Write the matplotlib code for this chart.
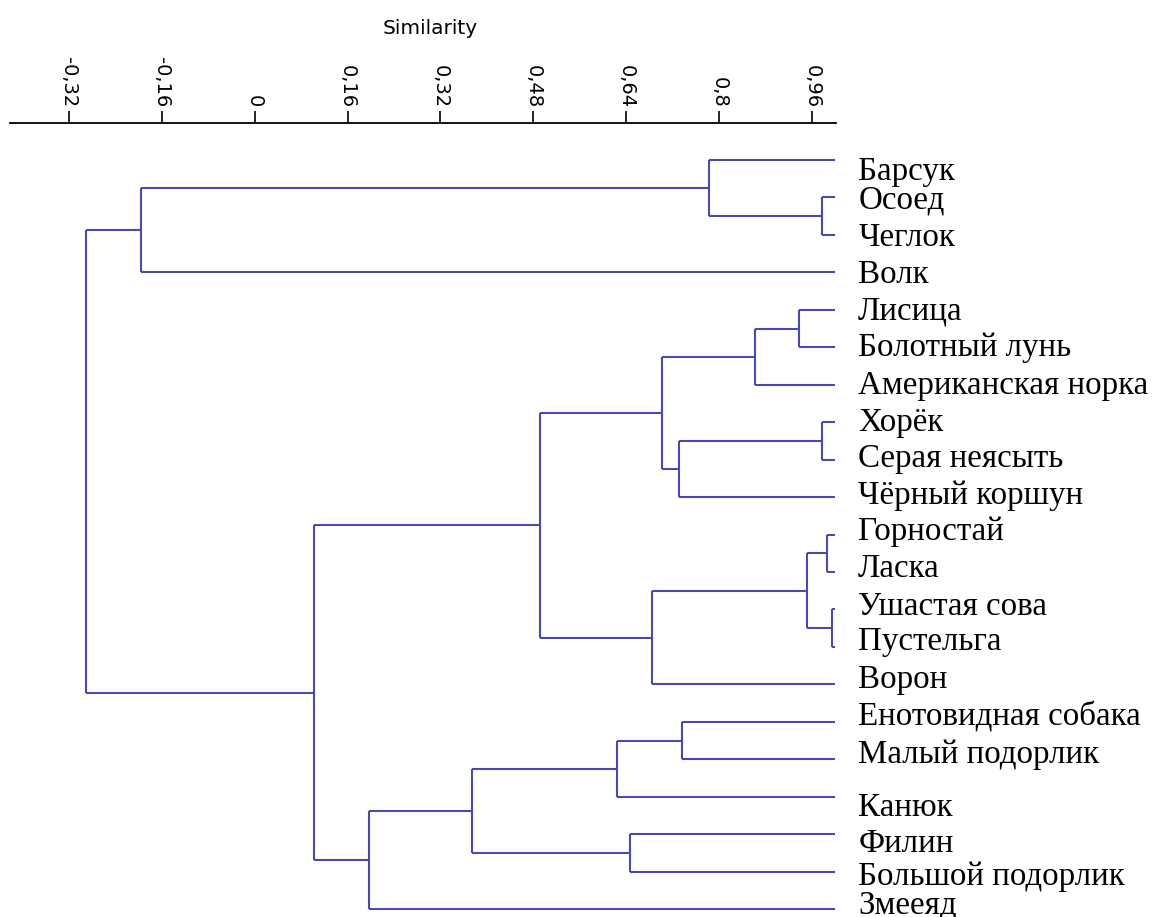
import matplotlib
matplotlib.use('Agg')
import matplotlib.pyplot as plt

# leaves, top to bottom
leaves = ['Барсук', 'Осоед', 'Чеглок', 'Волк', 'Лисица', 'Болотный лунь',
          'Американская норка', 'Хорёк', 'Серая неясыть', 'Чёрный коршун',
          'Горностай', 'Ласка', 'Ушастая сова', 'Пустельга', 'Ворон',
          'Енотовидная собака', 'Малый подорлик', 'Канюк', 'Филин',
          'Большой подорлик', 'Змееяд']

# merges like a linkage table: new cluster ids start at len(leaves)
merge_left = [12, 10, 1, 7, 22, 4, 26, 0, 15, 24, 27, 25, 18, 29, 31, 34, 36, 35, 28, 39]
merge_right = [13, 11, 2, 8, 21, 5, 6, 23, 16, 9, 30, 14, 19, 17, 32, 33, 20, 37, 3, 38]
merge_sim = [0.995, 0.986, 0.978, 0.978, 0.951, 0.937, 0.862, 0.783, 0.736, 0.731,
             0.701, 0.684, 0.647, 0.624, 0.491, 0.374, 0.197, 0.103, -0.195, -0.291]

tick_values = [-0.32, -0.16, 0, 0.16, 0.32, 0.48, 0.64, 0.8, 0.96]
tick_labels = ['-0,32', '-0,16', '0', '0,16', '0,32', '0,48', '0,64', '0,8', '0,96']

# label nudges in pixels (the labels in the source are not exactly on their lines)
label_dy = [12, 3, 3, 2, 1, 0, 1, 1, -1, -1, -3, -3, -3, -5, -5, -5, -5, 11, 10, 5, -4]

line_color = '#4a4aa8'

fig = plt.figure(figsize=(11.56, 9.17), dpi=100)
ax = fig.add_axes([10 / 1156, 0, 826 / 1156, 1 - 123 / 917])

xpos = {i: 1.0 for i in range(len(leaves))}
ypos = {i: float(i) for i in range(len(leaves))}

for k, (a, b, s) in enumerate(zip(merge_left, merge_right, merge_sim)):
    node = len(leaves) + k
    ax.plot([s, s], [ypos[a], ypos[b]], color=line_color, lw=1.5, solid_capstyle='butt')
    ax.plot([s, xpos[a]], [ypos[a], ypos[a]], color=line_color, lw=1.5, solid_capstyle='butt')
    ax.plot([s, xpos[b]], [ypos[b], ypos[b]], color=line_color, lw=1.5, solid_capstyle='butt')
    xpos[node] = s
    ypos[node] = (ypos[a] + ypos[b]) / 2

for i, name in enumerate(leaves):
    ax.annotate(name, xy=(1.0, i), xytext=(23, -label_dy[i]), textcoords='offset pixels',
                ha='left', va='center', fontsize=23.8, family='Liberation Serif',
                annotation_clip=False)

ax.set_xlim(-0.4215, 1.0014)
ax.set_ylim(20.21, -0.988)

for side in ['left', 'right', 'bottom']:
    ax.spines[side].set_visible(False)
ax.spines['top'].set_linewidth(1.3)

ax.set_yticks([])
ax.set_xticks(tick_values)
ax.set_xticklabels(tick_labels)
ax.tick_params(axis='x', top=True, bottom=False, labeltop=True, labelbottom=False,
               direction='out', length=9, width=1.2, pad=2, labelsize=14,
               labelrotation=-90)

fig.text(430 / 1156, 1 - 28 / 917, 'Similarity', ha='center', va='center', fontsize=14.5)

plt.savefig('out.png', dpi=100)
